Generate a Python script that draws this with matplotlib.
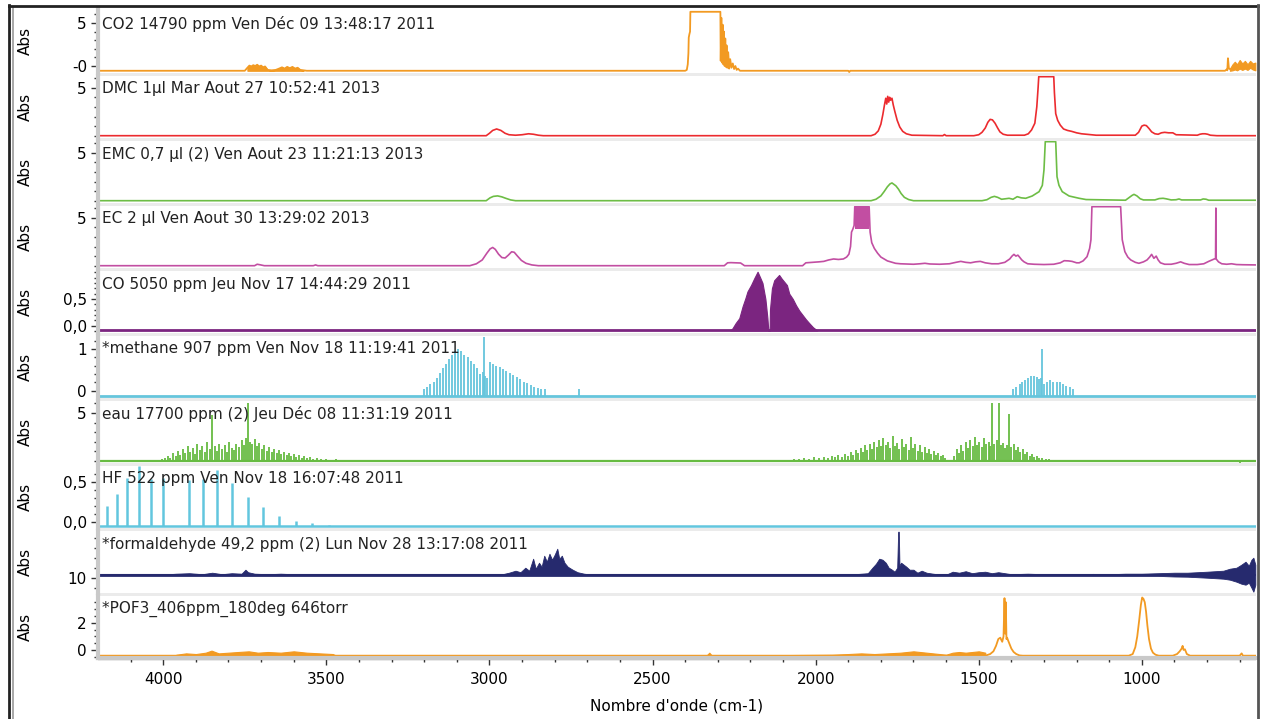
"""
  Stacked FTIR reference spectra (10 gases), absorbance vs wavenumber.
"""
import numpy as np
import matplotlib.pyplot as plt
from matplotlib.lines import Line2D
from matplotlib.patches import Rectangle

plt.rcParams['font.family'] = ['DejaVu Sans']

# ------------------------------------------------------------------
# Data: wavenumber (cm-1) and absorbance
# ------------------------------------------------------------------
LABELS = ["CO2 14790 ppm Ven Déc 09 13:48:17 2011",
          "DMC 1µl Mar Aout 27 10:52:41 2013",
          "EMC 0,7 µl (2) Ven Aout 23 11:21:13 2013",
          "EC 2 µl Ven Aout 30 13:29:02 2013",
          "CO 5050 ppm Jeu Nov 17 14:44:29 2011",
          "*methane 907 ppm Ven Nov 18 11:19:41 2011",
          "eau 17700 ppm (2) Jeu Déc 08 11:31:19 2011",
          "HF 522 ppm Ven Nov 18 16:07:48 2011",
          "*formaldehyde 49,2 ppm (2) Lun Nov 28 13:17:08 2011",
          "*POF3_406ppm_180deg 646torr"]

CO2_WN = [4200, 3750, 3742, 3736, 3730, 3724, 3718, 3712, 3706, 3700, 3694, 3688, 3680,
          3668, 3655, 3645, 3636, 3628, 3620, 3612, 3604, 3596, 3588, 3580, 3570, 3560,
          2400, 2395, 2392, 2390, 2389, 2387, 2385, 2384, 2292, 2291, 2289, 2287, 2285,
          2283, 2281, 2279, 2277, 2275, 2273, 2271, 2268, 2265, 2262, 2258, 2254, 2250,
          2246, 2242, 2238, 2232, 1900, 1897, 1894, 745, 740, 738, 736, 733, 730]
CO2_ABS = [-0.55, -0.55, -0.2, 0.05, -0.05, 0.1, 0.0, 0.15, -0.05, 0.05, -0.15, -0.05, -0.45,
           -0.5, -0.45, -0.3, -0.15, -0.3, -0.1, -0.25, -0.1, -0.3, -0.2, -0.45, -0.5, -0.55,
           -0.55, -0.45, 0.2, 1.5, 3.3, 3.7, 4.0, 6.3, 6.3, 0.6, 5.6, 0.4, 4.8,
           0.2, 4.0, 0.0, 3.2, -0.1, 2.4, -0.2, 1.6, -0.3, 0.8, -0.2, 0.3, -0.35,
           0.0, -0.45, -0.3, -0.55, -0.55, -0.7, -0.55, -0.55, -0.4, -0.5, 0.9, -0.3, -0.35]
CO2_END_WN = [730, 722, 715, 708, 700, 692, 684, 676, 668, 660, 652]
CO2_END_HI = [-0.3, 0.2, 0.5, 0.2, 0.7, 0.3, 0.6, 0.2, 0.6, 0.3, 0.4]
CO2_END_LO = [-0.55, -0.5, -0.4, -0.5, -0.3, -0.45, -0.3, -0.45, -0.2, -0.4, -0.5]

DMC_WN = [4200, 3010, 3000, 2990, 2978, 2965, 2952, 2940, 2920, 2900,
          2880, 2865, 2850, 2835, 1830, 1818, 1808, 1800, 1794, 1789,
          1785, 1782, 1779, 1776, 1773, 1770, 1766, 1762, 1757, 1750,
          1742, 1733, 1722, 1705, 1610, 1605, 1600, 1515, 1500, 1490,
          1480, 1472, 1465, 1458, 1450, 1442, 1435, 1425, 1412, 1360,
          1348, 1338, 1328, 1322, 1318, 1316, 1270, 1268, 1264, 1258,
          1250, 1240, 1228, 1215, 1200, 1185, 1170, 1155, 1140, 1030,
          1020, 1010, 1000, 993, 986, 978, 970, 960, 950, 940,
          930, 918, 905, 895, 830, 822, 814, 806, 798, 790, 770, 650]
DMC_ABS = [0, 0, 0.25, 0.55, 0.7, 0.55, 0.25, 0.1, 0.05, 0.1,
           0.2, 0.15, 0.05, 0, 0, 0.15, 0.5, 1.2, 2.2, 3.2,
           3.9, 3.3, 4.1, 3.5, 4.0, 3.7, 3.9, 3.2, 2.5, 1.6,
           0.9, 0.45, 0.2, 0.05, 0, 0.12, 0, 0, 0.1, 0.35,
           0.8, 1.4, 1.7, 1.65, 1.3, 0.8, 0.4, 0.15, 0.05, 0.05,
           0.2, 0.6, 1.3, 3.0, 5.0, 6.15, 6.15, 4.5, 2.3, 1.6,
           1.1, 0.7, 0.55, 0.45, 0.3, 0.2, 0.15, 0.1, 0.05, 0.05,
           0.05, 0.35, 1.0, 1.1, 1.05, 0.75, 0.4, 0.2, 0.15, 0.3,
           0.35, 0.3, 0.3, 0.1, 0.05, 0.15, 0.2, 0.2, 0.15, 0.05, 0, 0]

EMC_WN = [4200, 3010, 2998, 2988, 2975, 2962, 2950, 2935, 2920, 1830,
          1815, 1800, 1790, 1780, 1772, 1766, 1760, 1754, 1746, 1738,
          1728, 1715, 1700, 1490, 1475, 1462, 1452, 1442, 1430, 1418,
          1407, 1395, 1382, 1370, 1356, 1336, 1315, 1305, 1300, 1296,
          1264, 1260, 1254, 1244, 1223, 1192, 1171, 1050, 1040, 1030,
          1024, 1015, 1005, 995, 960, 947, 935, 926, 910, 895,
          886, 878, 820, 812, 803, 795, 650]
EMC_ABS = [0, 0, 0.3, 0.45, 0.5, 0.4, 0.25, 0.08, 0, 0,
           0.15, 0.5, 0.95, 1.45, 1.75, 1.85, 1.7, 1.55, 1.2, 0.75,
           0.35, 0.12, 0, 0, 0.1, 0.35, 0.45, 0.35, 0.15, 0.2,
           0.25, 0.15, 0.42, 0.3, 0.25, 0.49, 0.94, 1.6, 3.2, 6.15,
           6.15, 2.5, 1.6, 0.94, 0.49, 0.25, 0.12, 0.05, 0.3, 0.55,
           0.66, 0.5, 0.2, 0.08, 0.08, 0.22, 0.25, 0.2, 0.08, 0.1,
           0.18, 0.08, 0.08, 0.18, 0.15, 0.05, 0.05]

EC_WN = [4200, 3720, 3712, 3704, 3690, 3540, 3533, 3526, 3060, 3040,
         3022, 3008, 2998, 2990, 2982, 2972, 2962, 2952, 2942, 2932,
         2924, 2914, 2902, 2888, 2870, 2850, 2280, 2270, 2260, 2245,
         2230, 2218, 2040, 2030, 2010, 1990, 1975, 1960, 1945, 1930,
         1915, 1905, 1898, 1893, 1890, 1886, 1882, 1880, 1836, 1833,
         1828, 1820, 1810, 1800, 1790, 1780, 1770, 1755, 1740, 1720,
         1700, 1680, 1665, 1650, 1620, 1590, 1570, 1555, 1540, 1525,
         1510, 1495, 1480, 1460, 1440, 1420, 1405, 1398, 1392, 1386,
         1380, 1376, 1368, 1361, 1350, 1330, 1300, 1270, 1250, 1238,
         1225, 1214, 1200, 1192, 1180, 1168, 1160, 1156, 1153, 1065,
         1060, 1052, 1043, 1034, 1020, 1009, 995, 984, 976, 970,
         963, 956, 950, 943, 930, 910, 895, 881, 870, 855,
         830, 810, 795, 785, 778, 774, 773, 772, 765, 755,
         740, 725, 710, 690, 650]
EC_ABS = [0, 0, 0.15, 0.1, 0, 0, 0.08, 0, 0, 0.2,
          0.6, 1.3, 1.75, 1.9, 1.7, 1.2, 0.85, 0.8, 1.1, 1.45,
          1.4, 1.0, 0.55, 0.25, 0.08, 0, 0, 0.3, 0.32, 0.3,
          0.28, 0, 0, 0.3, 0.35, 0.4, 0.45, 0.6, 0.7, 0.65,
          0.7, 0.9, 1.2, 2.0, 3.5, 3.8, 4.2, 6.15, 6.15, 3.5,
          2.4, 1.8, 1.3, 0.9, 0.7, 0.5, 0.4, 0.25, 0.2, 0.18,
          0.15, 0.2, 0.25, 0.18, 0.15, 0.2, 0.35, 0.45, 0.35, 0.3,
          0.4, 0.45, 0.3, 0.2, 0.2, 0.35, 0.7, 1.0, 1.18, 1.0,
          1.1, 0.94, 0.6, 0.4, 0.2, 0.15, 0.12, 0.15, 0.3, 0.52,
          0.5, 0.45, 0.3, 0.3, 0.5, 0.94, 1.8, 2.7, 6.15, 6.15,
          2.7, 1.46, 0.9, 0.6, 0.35, 0.25, 0.4, 0.6, 0.9, 1.18,
          0.77, 1.0, 0.6, 0.3, 0.15, 0.15, 0.25, 0.4, 0.25, 0.12,
          0.12, 0.2, 0.45, 0.6, 0.7, 0.75, 6.0, 0.7, 0.4, 0.2,
          0.15, 0.2, 0.12, 0.1, 0.08]
EC_BLOCK_WN = [1880, 1836]   # saturated, drawn solid

CO_WN = [2262, 2255, 2245, 2234, 2224, 2215, 2209, 2198, 2188, 2178,
         2170, 2163, 2154, 2148, 2145, 2143, 2141, 2140, 2134, 2127,
         2112, 2104, 2096, 2088, 2081, 2070, 2060, 2050, 2040, 2030,
         2020, 2008, 1995]
CO_TOP = [-0.09, -0.05, 0.05, 0.14, 0.36, 0.52, 0.64, 0.76, 0.89, 1.01,
          0.9, 0.8, 0.5, 0.15, -0.09, -0.09, -0.09, 0.3, 0.7, 0.85,
          0.95, 0.88, 0.82, 0.76, 0.6, 0.5, 0.38, 0.28, 0.2, 0.12,
          0.05, -0.03, -0.09]
CO_BASE = -0.09

CH4_WN = [3200, 3190, 3181, 3171, 3162, 3153, 3143, 3134, 3124, 3115,
          3105, 3096, 3086, 3077, 3067, 3057, 3048, 3038, 3028, 3021,
          3017, 3013, 3009, 2999, 2989, 2979, 2968, 2958, 2948, 2938,
          2927, 2917, 2906, 2895, 2884, 2874, 2863, 2852, 2842, 2830,
          2725,
          1395, 1385, 1375, 1366, 1357, 1348, 1340, 1331, 1322, 1315,
          1309, 1306, 1300, 1291, 1281, 1271, 1261, 1251, 1241, 1231, 1221, 1211]
CH4_H = [0.05, 0.1, 0.15, 0.22, 0.3, 0.42, 0.55, 0.65, 0.75, 0.85,
         0.95, 1.0, 0.95, 0.85, 0.8, 0.72, 0.65, 0.55, 0.4, 0.45,
         1.28, 0.35, 0.3, 0.68, 0.65, 0.6, 0.57, 0.52, 0.48, 0.42,
         0.38, 0.32, 0.27, 0.22, 0.18, 0.14, 0.1, 0.07, 0.05, 0.03,
         0.03,
         0.05, 0.1, 0.15, 0.2, 0.26, 0.3, 0.34, 0.36, 0.32, 0.28,
         0.3, 0.99, 0.15, 0.22, 0.25, 0.2, 0.22, 0.2, 0.15, 0.12, 0.08, 0.05]
CH4_BASE = -0.13

H2O_WN = [4005, 3995, 3985, 3978, 3970, 3962, 3955, 3948, 3940, 3932,
          3925, 3918, 3910, 3902, 3895, 3888, 3880, 3872, 3866, 3857,
          3849, 3842, 3835, 3828, 3820, 3812, 3805, 3798, 3790, 3782,
          3776, 3768, 3760, 3752, 3745, 3741, 3735, 3728, 3720, 3712,
          3705, 3698, 3690, 3682, 3675, 3668, 3660, 3652, 3645, 3638,
          3630, 3622, 3615, 3607, 3600, 3592, 3584, 3576, 3568, 3560,
          3550, 3540, 3528, 3515, 3500, 3485, 3470, 3455,
          2066, 2050, 2035, 2020, 2005, 1990, 1975, 1962, 1950, 1940,
          1930, 1920, 1910, 1900, 1892, 1885, 1877, 1870, 1862, 1855,
          1848, 1841, 1834, 1827, 1820, 1813, 1806, 1799, 1792, 1785,
          1778, 1771, 1764, 1757, 1750, 1743, 1736, 1729, 1722, 1715,
          1708, 1701, 1694, 1687, 1680, 1673, 1666, 1659, 1652, 1645,
          1638, 1631, 1624, 1617, 1610, 1603,
          1575, 1568, 1561, 1554, 1547, 1540, 1533, 1526, 1519, 1512,
          1505, 1498, 1491, 1484, 1477, 1470, 1464, 1459, 1452, 1445,
          1438, 1432, 1426, 1419, 1413, 1407, 1400, 1393, 1386, 1379,
          1372, 1365, 1358, 1351, 1344, 1337, 1330, 1322, 1314, 1305,
          1295, 1285, 700]
H2O_H = [0.2, 0.3, 0.5, 0.3, 0.8, 0.5, 1.0, 0.6, 1.2, 0.8,
         1.5, 0.9, 1.3, 0.7, 1.8, 1.1, 1.5, 0.9, 2.0, 1.2,
         4.75, 1.5, 1.0, 1.8, 1.2, 1.6, 0.9, 2.0, 1.3, 1.1,
         1.8, 1.4, 2.2, 1.6, 2.4, 6.1, 2.0, 1.7, 2.3, 1.5,
         1.9, 1.2, 1.6, 1.0, 1.4, 0.9, 1.2, 0.8, 1.1, 0.7,
         0.9, 0.6, 0.8, 0.5, 0.7, 0.4, 0.6, 0.3, 0.5, 0.3,
         0.4, 0.2, 0.3, 0.15, 0.2, 0.1, 0.15, 0.1,
         0.2, 0.15, 0.3, 0.2, 0.35, 0.25, 0.4, 0.3, 0.5, 0.35,
         0.6, 0.4, 0.7, 0.5, 0.9, 0.6, 1.1, 0.8, 1.3, 0.9,
         1.6, 1.1, 1.8, 1.2, 2.0, 1.4, 2.2, 1.5, 2.4, 1.6,
         2.0, 1.3, 2.6, 1.5, 1.9, 1.2, 2.3, 1.4, 1.7, 1.1,
         2.5, 1.3, 1.8, 1.0, 1.6, 0.9, 1.4, 0.8, 1.2, 0.7,
         1.0, 0.6, 0.8, 0.5, 0.6, 0.3,
         0.5, 1.2, 0.8, 1.6, 1.0, 2.0, 1.3, 2.2, 1.5, 2.5,
         1.6, 2.0, 1.4, 2.4, 1.7, 2.0, 1.5, 6.1, 1.8, 2.2,
         6.1, 1.6, 1.9, 1.3, 1.6, 4.9, 1.4, 1.7, 1.1, 1.4,
         0.9, 1.2, 0.7, 0.9, 0.5, 0.7, 0.4, 0.5, 0.3, 0.3,
         0.2, 0.15, -0.2]

HF_WN = [4173.8, 4142.8, 4109.9, 4075.3, 4039.0, 4001.0, 3920.3, 3877.7,
         3833.7, 3788.2, 3741.4, 3693.4, 3644.2, 3594.0, 3542.7, 3490.5]
HF_H = [0.19, 0.35, 0.54, 0.69, 0.53, 0.54, 0.52, 0.53,
        0.65, 0.48, 0.31, 0.18, 0.07, 0.01, -0.02, -0.04]
HF_BASE = -0.05

FORM_WN = [4200, 4120, 4060, 4000, 3960, 3920, 3880, 3850, 3820, 3790,
           3760, 3748, 3740, 3720, 3680, 3640, 3600, 3560, 3520, 3480,
           3400, 3300, 3200, 3100, 3000, 2960, 2940, 2920, 2905, 2890,
           2878, 2866, 2858, 2848, 2840, 2832, 2824, 2816, 2808, 2800,
           2792, 2786, 2778, 2770, 2760, 2745, 2730, 2710, 2690, 2650,
           2550, 2450, 2350, 2250, 2150, 2050, 1950, 1880, 1840, 1826,
           1815, 1805, 1795, 1785, 1776, 1766, 1758, 1750, 1747, 1745,
           1743, 1738, 1730, 1722, 1712, 1700, 1688, 1675, 1660, 1640,
           1620, 1600, 1580, 1560, 1540, 1520, 1500, 1480, 1460, 1440,
           1420, 1400, 1350, 1300, 1250, 1200, 1150, 1100, 1050, 1000,
           950, 900, 860, 830, 800, 775, 750, 730, 710, 695,
           682, 672, 664, 658, 652]
FORM_HI = [10.28, 10.3, 10.3, 10.32, 10.4, 10.45, 10.35, 10.5, 10.35, 10.45,
           10.4, 10.8, 10.55, 10.4, 10.35, 10.4, 10.35, 10.3, 10.35, 10.3,
           10.3, 10.28, 10.3, 10.28, 10.3, 10.35, 10.5, 10.7, 10.55, 11.0,
           10.7, 11.9, 10.9, 11.5, 11.1, 12.2, 11.6, 12.4, 11.8, 12.3,
           12.9, 11.9, 12.2, 11.5, 11.1, 10.8, 10.55, 10.4, 10.32, 10.3,
           10.28, 10.3, 10.32, 10.28, 10.3, 10.28, 10.3, 10.35, 10.45, 11.0,
           11.4, 11.9, 11.8, 11.5, 11.0, 10.8, 10.6, 11.0, 14.6, 14.6,
           11.2, 11.5, 11.3, 11.1, 10.8, 10.8, 10.5, 10.7, 10.5, 10.4,
           10.32, 10.3, 10.6, 10.5, 10.65, 10.45, 10.55, 10.6, 10.45, 10.55,
           10.45, 10.35, 10.4, 10.35, 10.32, 10.35, 10.38, 10.35, 10.4, 10.4,
           10.45, 10.5, 10.5, 10.55, 10.6, 10.65, 10.7, 10.9, 11.0, 11.3,
           11.6, 11.2, 11.8, 12.0, 11.3]
FORM_LO = [10.18] * 101 + [10.12, 10.1, 10.05, 10.0, 9.95, 9.9, 9.8, 9.6, 9.4,
                           9.3, 9.5, 9.0, 8.6, 9.3]
FORM_BASE = 10.24

POF3_WN = [4200, 1480, 1465, 1455, 1447, 1440, 1434, 1428, 1424, 1421,
           1419, 1417, 1415, 1413, 1410, 1405, 1400, 1393, 1385, 1375,
           1365, 1040, 1028, 1020, 1014, 1008, 1003, 999, 995, 991,
           987, 983, 978, 972, 966, 958, 948, 905, 892, 884,
           878, 875, 872, 868, 862, 852, 700, 694, 690, 650]
POF3_ABS = [-0.42, -0.42, -0.3, -0.1, 0.3, 0.8, 0.9, 0.6, 1.0, 3.8,
            1.2, 3.5, 0.8, 0.9, 0.7, 0.4, 0.1, -0.15, -0.3, -0.4,
            -0.42, -0.42, -0.3, 0.2, 1.0, 2.2, 3.3, 3.85, 3.75, 3.5,
            2.8, 1.8, 0.8, 0.1, -0.2, -0.35, -0.42, -0.42, -0.3, -0.1,
            0.1, 0.3, 0.0, 0.05, -0.3, -0.42, -0.42, -0.25, -0.42, -0.42]
POF3_NZ_WN = [3960, 3930, 3900, 3870, 3852, 3830, 3800, 3770, 3738, 3710,
              3680, 3640, 3600, 3560, 3520, 3480, 3470,
              2335, 2326, 2318,
              1950, 1900, 1860, 1820, 1780, 1740, 1700, 1680, 1640, 1600,
              1580, 1560, 1540, 1520, 1500, 1480]
POF3_NZ_HI = [-0.35, -0.25, -0.3, -0.2, -0.05, -0.25, -0.2, -0.15, -0.1, -0.2,
              -0.15, -0.2, -0.1, -0.2, -0.25, -0.3, -0.42,
              -0.42, -0.2, -0.42,
              -0.35, -0.3, -0.25, -0.3, -0.25, -0.2, -0.1, -0.15, -0.25, -0.35,
              -0.2, -0.15, -0.2, -0.15, -0.1, -0.2]
POF3_BASE = -0.42

# ------------------------------------------------------------------
# Layout (pixels of the 1261x719 screenshot)
# ------------------------------------------------------------------
W, H = 1261, 719
X0, X1 = 98, 1256
WN_LEFT, WN_RIGHT = 4200, 650
TOPS = [8] + [11 + 65 * i for i in range(1, 10)]
BOTS = [73 + 65 * i for i in range(10)]

# ylim, major ticks, tick labels, minor step for each panel
YLIMS = [(-0.81, 6.74), (-0.24, 6.22), (-0.24, 6.22), (-0.24, 6.22), (-0.137, 1.024),
         (-0.175, 1.31), (-0.24, 6.26), (-0.079, 0.696), (8.47, 14.67), (-0.59, 3.96)]
YTICKS = [[0, 5], [5], [5], [5], [0.0, 0.5], [0, 1], [5], [0.0, 0.5], [10], [0, 2]]
YTICKLABELS = [["-0", "5"], ["5"], ["5"], ["5"], ["0,0", "0,5"], ["0", "1"], ["5"],
               ["0,0", "0,5"], ["10"], ["0", "2"]]
MINOR = [1, 1, 1, 1, 0.1, 0.2, 1, 0.1, 1, 0.5]

ORANGE = '#f29a22'
COLORS = [ORANGE, '#ec2b2f', '#6dbd45', '#c24ea2', '#7b2580',
          '#66c5dc', '#67bb42', '#62c6de', '#262a6e', ORANGE]

SPINE = '#c9c9c9'
TICK = '#333333'
FS = 11


def px_rect(x0, y0, x1, y1):
    return [x0 / W, 1 - y1 / H, (x1 - x0) / W, (y1 - y0) / H]


fig = plt.figure(figsize=(W / 100, H / 100), dpi=100)

# light grey strips between the panels
fig.add_artist(Rectangle((X0 / W, 1 - 661 / H), (X1 - X0) / W, (661 - 8) / H,
                         transform=fig.transFigure, fc='#ebebeb', ec='none', zorder=-5))

axes = []
for i in range(10):
    ax = fig.add_axes(px_rect(X0, TOPS[i], X1, BOTS[i]))
    ax.set_xlim(WN_LEFT, WN_RIGHT)
    ax.set_ylim(*YLIMS[i])
    for s in ['top', 'right', 'bottom']:
        ax.spines[s].set_visible(False)
    ax.spines['left'].set_color(SPINE)
    ax.spines['left'].set_linewidth(3)
    lo, hi = YLIMS[i]
    ax.set_yticks(YTICKS[i], YTICKLABELS[i])
    step = MINOR[i]
    minor = np.arange(np.ceil(lo / step) * step, hi, step)
    ax.set_yticks(minor, minor=True)
    ax.tick_params(axis='y', which='major', direction='out', length=5, width=1,
                   color=TICK, labelsize=FS, pad=3)
    ax.tick_params(axis='y', which='minor', direction='out', length=3, width=1, color=TICK)
    ax.set_xticks([])
    fig.text(25 / W, 1 - (TOPS[i] + BOTS[i]) / 2 / H, "Abs", rotation=90,
             ha='center', va='center', fontsize=FS)
    fig.text(102 / W, 1 - (24 + 65 * i) / H, LABELS[i], ha='left', va='center',
             fontsize=FS, color='#222222')
    axes.append(ax)

# --- CO2
ax = axes[0]
ax.plot(CO2_WN, CO2_ABS, color=COLORS[0], lw=1.3)
ax.fill_between(CO2_END_WN, CO2_END_LO, CO2_END_HI, color=COLORS[0], lw=0.8)
ax.fill_between(CO2_WN[2:25], -0.55, CO2_ABS[2:25], color=COLORS[0], lw=0.8)

# --- DMC, EMC, EC
axes[1].plot(DMC_WN, DMC_ABS, color=COLORS[1], lw=1.2)
axes[2].plot(EMC_WN, EMC_ABS, color=COLORS[2], lw=1.2)
axes[3].plot(EC_WN, EC_ABS, color=COLORS[3], lw=1.2)
axes[3].fill_between(EC_BLOCK_WN, 3.8, 6.15, color=COLORS[3], lw=0)

# --- CO (dense rotational lines -> solid)
ax = axes[4]
ax.axhline(CO_BASE, color=COLORS[4], lw=2)
ax.fill_between(CO_WN, CO_BASE, CO_TOP, color=COLORS[4], lw=0.8)

# --- methane
ax = axes[5]
ax.axhline(CH4_BASE, color=COLORS[5], lw=2)
ax.vlines(CH4_WN, CH4_BASE, CH4_H, color=COLORS[5], lw=1.3)

# --- water
ax = axes[6]
ax.axhline(0, color=COLORS[6], lw=1.6)
ax.vlines(H2O_WN, 0, H2O_H, color=COLORS[6], lw=1.3)

# --- HF
ax = axes[7]
ax.axhline(HF_BASE, color=COLORS[7], lw=1.8)
ax.vlines(HF_WN, HF_BASE, HF_H, color=COLORS[7], lw=1.8)

# --- formaldehyde
ax = axes[8]
ax.fill_between(FORM_WN, FORM_LO, FORM_HI, color=COLORS[8], lw=0.6)
ax.axhline(FORM_BASE, color=COLORS[8], lw=1.5)

# --- POF3
ax = axes[9]
ax.plot(POF3_WN, POF3_ABS, color=COLORS[9], lw=1.3)
ax.fill_between(POF3_NZ_WN, POF3_BASE, POF3_NZ_HI, color=COLORS[9], lw=0.8)

# bottom wavenumber axis
ax.spines['bottom'].set_visible(True)
ax.spines['bottom'].set_color(SPINE)
ax.spines['bottom'].set_linewidth(3)
ax.set_xticks([4000, 3500, 3000, 2500, 2000, 1500, 1000])
ax.set_xticks(np.arange(4100, 600, -100), minor=True)
ax.tick_params(axis='x', which='major', direction='out', length=5, width=1,
               color=TICK, labelsize=FS, pad=5)
ax.tick_params(axis='x', which='minor', direction='out', length=3, width=1, color=TICK)
fig.text((X0 + X1) / 2 / W, 1 - 706 / H, "Nombre d'onde (cm-1)", ha='center',
         va='center', fontsize=FS)

# window frame
fig.add_artist(Line2D([9 / W, 9 / W], [0, 1 - 5 / H], transform=fig.transFigure,
                      color='#222222', lw=2))
fig.add_artist(Line2D([13 / W, 13 / W], [0, 1 - 7 / H], transform=fig.transFigure,
                      color='#999999', lw=1.2))
fig.add_artist(Line2D([9 / W, 1258 / W], [1 - 5.5 / H, 1 - 5.5 / H],
                      transform=fig.transFigure, color='#222222', lw=2))
fig.add_artist(Line2D([1258 / W, 1258 / W], [0, 1 - 5 / H], transform=fig.transFigure,
                      color='#555555', lw=2))

fig.savefig("out.png", dpi=100)
